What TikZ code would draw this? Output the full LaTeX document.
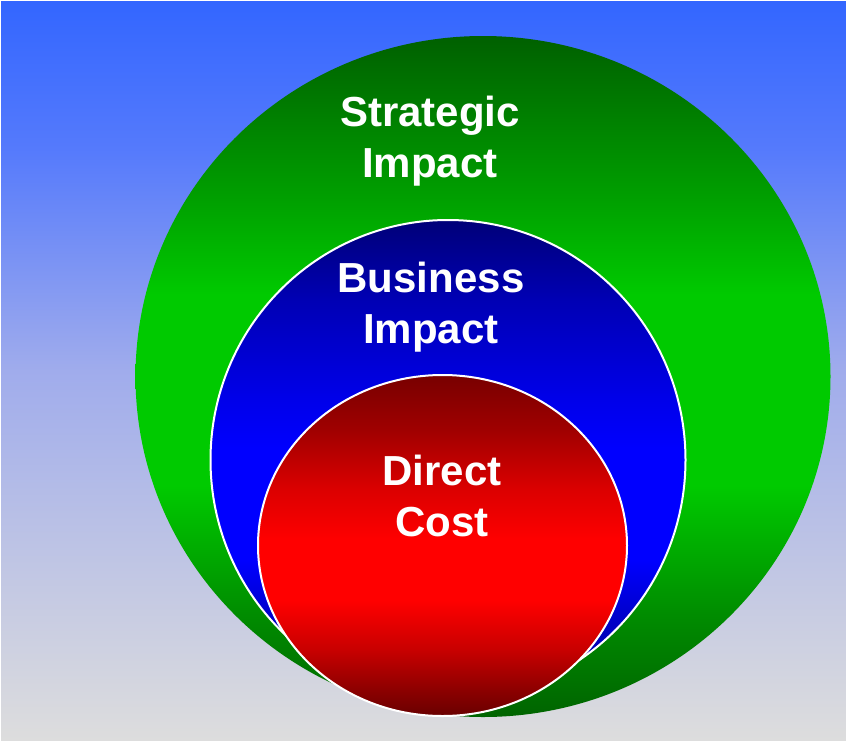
\documentclass[tikz,border=0pt]{standalone}
\usepackage{fontspec}
\setmainfont{Liberation Sans}
\usetikzlibrary{shapes.geometric}
% background
\definecolor{bg0}{RGB}{51,102,255}
\definecolor{bg1}{RGB}{85,122,252}
\definecolor{bg2}{RGB}{160,172,236}
\definecolor{bg3}{RGB}{221,221,221}
% green
\definecolor{g0}{RGB}{0,96,0}
\definecolor{g1}{RGB}{0,160,0}
\definecolor{g2}{RGB}{0,202,0}
\definecolor{g3}{RGB}{0,140,0}
\definecolor{g4}{RGB}{0,100,0}
% blue
\definecolor{b0}{RGB}{0,0,120}
\definecolor{b1}{RGB}{0,0,180}
\definecolor{b2}{RGB}{0,0,235}
\definecolor{b3}{RGB}{0,0,255}
\definecolor{b4}{RGB}{0,0,200}
\definecolor{b5}{RGB}{0,0,150}
% red
\definecolor{r0}{RGB}{120,0,0}
\definecolor{r1}{RGB}{160,0,0}
\definecolor{r2}{RGB}{220,0,0}
\definecolor{r3}{RGB}{255,0,0}
\definecolor{r4}{RGB}{200,0,0}
\definecolor{r5}{RGB}{140,0,0}
\definecolor{r6}{RGB}{105,0,0}
\pgfdeclareverticalshading{bgshade}{100bp}{color(0bp)=(bg3); color(25bp)=(bg3); color(50bp)=(bg2); color(65bp)=(bg1); color(75bp)=(bg0); color(100bp)=(bg0)}
\pgfdeclareverticalshading{greenshade}{100bp}{color(0bp)=(g4); color(25bp)=(g4); color(32.5bp)=(g3); color(42bp)=(g2); color(56bp)=(g2); color(63bp)=(g1); color(75bp)=(g0); color(100bp)=(g0)}
\pgfdeclareverticalshading{blueshade}{100bp}{color(0bp)=(b5); color(25bp)=(b5); color(33.3bp)=(b4); color(39.6bp)=(b3); color(51bp)=(b3); color(56bp)=(b2); color(66.7bp)=(b1); color(75bp)=(b0); color(100bp)=(b0)}
\pgfdeclareverticalshading{redshade}{100bp}{color(0bp)=(r6); color(25bp)=(r6); color(28.8bp)=(r5); color(34.7bp)=(r4); color(42bp)=(r3); color(50.8bp)=(r3); color(58.1bp)=(r2); color(66.9bp)=(r1); color(75bp)=(r0); color(100bp)=(r0)}
\tikzset{
  ring/.style={ellipse, inner sep=0pt, outer sep=0pt},
  ringline/.style={draw=white, line width=2pt},
  lbl/.style={text=white, font=\fontsize{42}{50}\selectfont\bfseries, inner sep=0pt, anchor=base}
}
\begin{document}
\begin{tikzpicture}[x=1pt,y=-1pt]
\useasboundingbox (0,0) rectangle (846,740);
\fill[white] (0,0) rectangle (846,740);
\shade[shading=bgshade] (1,1) rectangle (846,740);
\node[ring, minimum width=695pt, minimum height=681pt, shading=greenshade] (strategic) at (483,376.5) {};
\node[ring, ringline, minimum width=475pt, minimum height=480pt, shading=blueshade] (business) at (448,460) {};
\node[ring, ringline, minimum width=369pt, minimum height=341pt, shading=redshade] (direct) at (442.5,545.5) {};
\node[lbl] (s1) at (430,126) {Strategic};
\node[lbl] (s2) at (430,177) {Impact};
\node[lbl] (b1) at (431,292) {Business};
\node[lbl] (b2) at (431,343) {Impact};
\node[lbl] (d1) at (442,485) {Direct};
\node[lbl] (d2) at (442,536) {Cost};
\end{tikzpicture}
\end{document}
